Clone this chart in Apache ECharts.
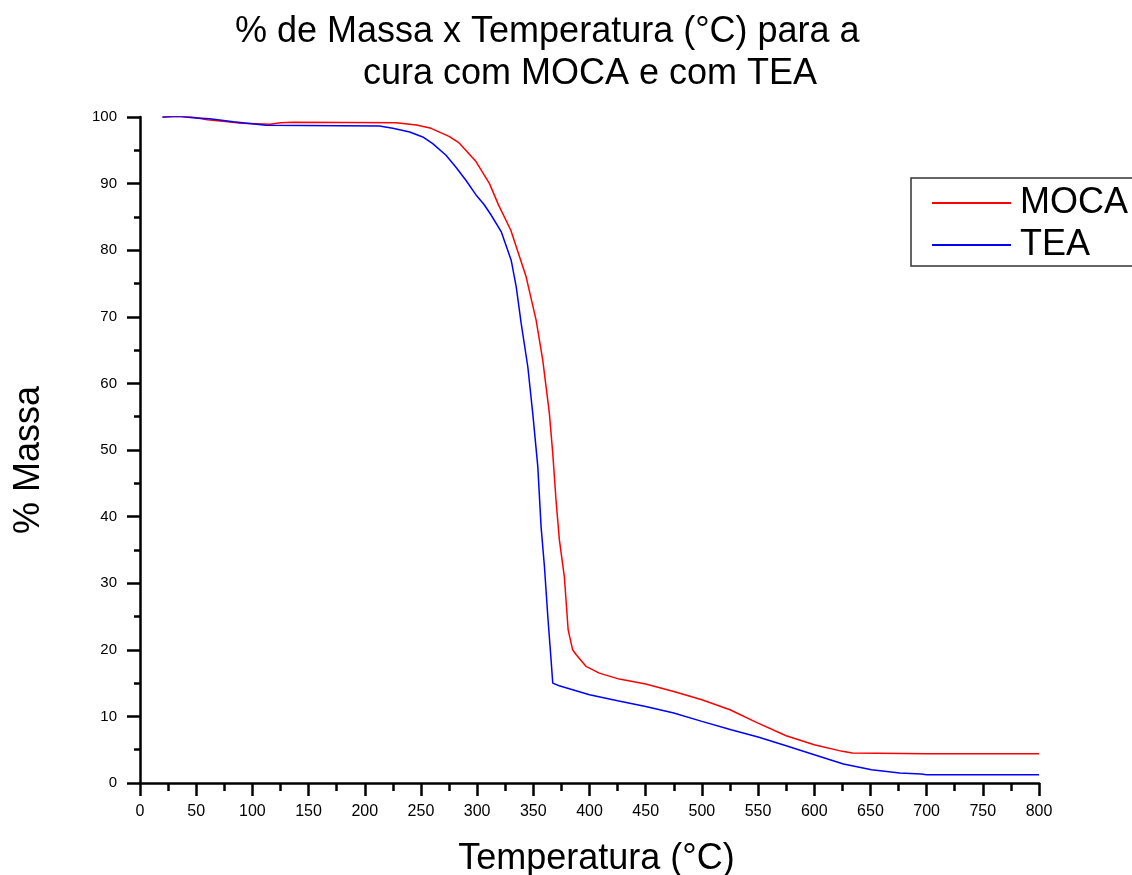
<!DOCTYPE html>
<html>
<head>
<meta charset="utf-8">
<script src="https://cdn.jsdelivr.net/npm/echarts@6/dist/echarts.min.js"></script>
<style>
  html, body { margin: 0; padding: 0; background: #fff; }
  #chart { width: 1132px; height: 875px; }
</style>
</head>
<body>
<div id="chart"></div>
<script>
// TGA curves: temperature (°C) and % mass
const mocaTemp = [20, 32, 46, 60, 78, 90, 110, 116, 125, 136, 228, 246, 259, 275, 284, 299, 311, 319, 330, 343.6, 352.5, 358.4, 364.3, 367.3, 370.2, 373.2, 377.6, 381, 385, 388, 397, 408.7, 426.5, 450, 475, 500, 525, 550, 575, 600, 625, 634, 700, 800];
const mocaMass = [100, 100.1, 100, 99.6, 99.3, 99.05, 98.95, 98.9, 99.15, 99.2, 99.15, 98.8, 98.3, 97.1, 96.1, 93.3, 90, 86.8, 83, 76, 69.5, 63.5, 55.5, 49.5, 42.5, 36.5, 31, 23, 20, 19.3, 17.5, 16.5, 15.6, 14.85, 13.75, 12.5, 11, 9, 7.1, 5.75, 4.75, 4.5, 4.4, 4.4];

const teaTemp = [20, 35, 47, 62, 83, 112, 213, 225, 240, 251.6, 260.5, 272.3, 281, 290, 299, 306, 312, 321.4, 330.3, 334.8, 339.2, 345.1, 349.5, 354, 356.9, 359.9, 362.9, 365.8, 367.3, 373, 385, 400, 425, 450, 475, 500, 526, 550, 575, 600, 626, 651, 676, 695, 700, 800];
const teaMass = [100, 100.1, 99.9, 99.75, 99.3, 98.75, 98.65, 98.3, 97.75, 97, 96, 94.25, 92.5, 90.5, 88.3, 86.9, 85.4, 82.8, 78.5, 74.5, 69, 62.5, 55.5, 47.5, 38.5, 32.5, 25, 18.5, 15, 14.6, 14, 13.25, 12.35, 11.5, 10.5, 9.25, 8, 6.9, 5.6, 4.25, 2.85, 2, 1.5, 1.35, 1.25, 1.25];

const seriesNames = ['MOCA', 'TEA'];
const seriesColors = ['#ff0000', '#0000ff'];

const FONT = '"Liberation Sans", Arial, sans-serif';
const zip = (xs, ys) => xs.map((x, i) => [x, ys[i]]);

const chart = echarts.init(document.getElementById('chart'));

const axisCommon = {
  type: 'value',
  splitLine: { show: false },
  axisLine: { show: true, onZero: false, lineStyle: { color: '#000', width: 2.5 } },
  axisTick: { show: true, length: 13, lineStyle: { color: '#000', width: 2.5 } },
  minorTick: { show: true, splitNumber: 2, length: 8, lineStyle: { color: '#000', width: 2.5 } },
  axisLabel: { color: '#000', fontSize: 15, fontFamily: FONT },
  nameLocation: 'middle',
  nameTextStyle: { color: '#000', fontSize: 36, fontFamily: FONT }
};

chart.setOption({
  animation: false,
  backgroundColor: '#fff',
  title: [
    { text: '% de Massa x Temperatura (°C) para a', left: 235, top: 14, padding: 0,
      textStyle: { color: '#000', fontSize: 36, fontWeight: 'normal', fontFamily: FONT } },
    { text: 'cura com MOCA e com TEA', left: 363, top: 56, padding: 0,
      textStyle: { color: '#000', fontSize: 36, fontWeight: 'normal', fontFamily: FONT } }
  ],
  legend: {
    orient: 'vertical',
    left: 911, top: 178,
    padding: [5, 30, 1, 21],
    borderColor: '#333', borderWidth: 1.5,
    icon: 'rect', itemWidth: 79, itemHeight: 2, itemGap: 2,
    textStyle: { color: '#000', fontSize: 36, lineHeight: 40, fontFamily: FONT, padding: [0, 0, 0, 4] },
    data: seriesNames
  },
  grid: { left: 140, right: 93, top: 117, bottom: 92, containLabel: false, outerBoundsMode: 'none' },
  xAxis: Object.assign({}, axisCommon, {
    min: 0, max: 800, interval: 50,
    name: 'Temperatura (°C)', nameGap: 58,
    nameTextStyle: Object.assign({}, axisCommon.nameTextStyle, { padding: [0, 0, 0, 14] }),
    axisLabel: Object.assign({}, axisCommon.axisLabel, { fontSize: 16, margin: 21 })
  }),
  yAxis: Object.assign({}, axisCommon, {
    min: 0, max: 100, interval: 10,
    name: '% Massa', nameGap: 93,
    minorTick: Object.assign({}, axisCommon.minorTick, { length: 6 }),
    nameTextStyle: Object.assign({}, axisCommon.nameTextStyle, { padding: [0, 20, 0, 0] }),
    axisLabel: Object.assign({}, axisCommon.axisLabel, { margin: 23 })
  }),
  series: [
    { name: seriesNames[0], type: 'line', data: zip(mocaTemp, mocaMass), showSymbol: false, symbol: 'none',
      color: seriesColors[0], lineStyle: { color: seriesColors[0], width: 1.5 } },
    { name: seriesNames[1], type: 'line', data: zip(teaTemp, teaMass), showSymbol: false, symbol: 'none',
      color: seriesColors[1], lineStyle: { color: seriesColors[1], width: 1.5 } }
  ]
});
</script>
</body>
</html>
